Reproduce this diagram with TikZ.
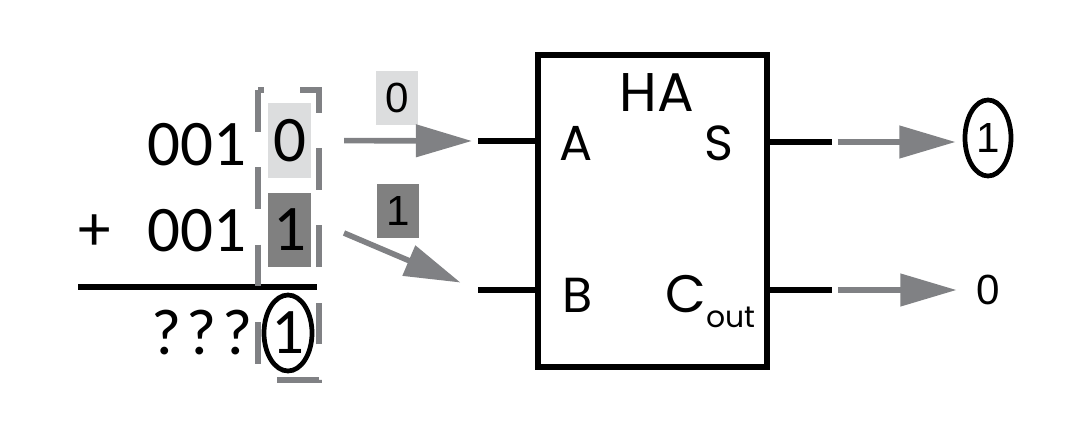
\documentclass[tikz,border=0pt]{standalone}
\usepackage{fontspec}
\setmainfont{Carlito}
\newfontfamily\blockfont{Poppins}
\newfontfamily\bitfont{Liberation Sans}
\usepackage{tikz}
\usetikzlibrary{arrows.meta,positioning,shapes.geometric}
\definecolor{wiregray}{RGB}{128,129,132}
\definecolor{litebit}{RGB}{220,221,222}
\definecolor{darkbit}{RGB}{128,128,128}

\tikzset{
  sumdigit/.style={inner sep=0pt,font=\fontsize{37}{40}\selectfont},
  bitlabel/.style={inner sep=0pt,font=\bitfont\fontsize{24}{26}\selectfont},
  blocktext/.style={inner sep=0pt,anchor=base west,font=\blockfont\fontsize{#1}{#1}\selectfont},
  garrow/.style={wiregray,line width=3.2pt,-{Triangle[length=32pt,width=18pt]}},
  pinline/.style={line width=3pt},
  ring/.style={draw,ellipse,line width=2.7pt,inner sep=0pt},
}

\begin{document}
\begin{tikzpicture}[x=0.02cm,y=-0.02cm, line join=miter]
    \useasboundingbox (0,0) rectangle (1090,426);
    % the sum, worked by hand
    \node[sumdigit] (atop) at (197,145) {001};
    \node[sumdigit,fill=litebit,minimum width=0.86cm,minimum height=1.5cm] (a0) at (289.5,140.5) {0};
    \node[sumdigit] (plus) at (95,233) {+};
    \node[sumdigit] (btop) at (197,231) {001};
    \node[sumdigit,fill=darkbit,minimum width=0.86cm,minimum height=1.48cm] (b0) at (289.5,230) {1};
    \draw[line width=3.4pt] (78,287) -- (317,287);
    \node[sumdigit] (qmarks) at (202,333) {?\kern3pt?\kern3pt?};
    \node[ring,sumdigit,minimum width=0.96cm,minimum height=1.52cm] (s0) at (288,333) {1};
    \draw[wiregray,line width=3pt,dash pattern=on 23.8pt off 20.2pt] (258,90) rectangle (319,380);

    % half adder block
    \node[draw,line width=3.4pt,minimum width=4.58cm,minimum height=6.24cm] (ha) at (652.5,211) {};
    \node[blocktext=31] (halab) at (619,112) {HA};
    \node[blocktext=28] (alab) at (559,160) {A};
    \node[blocktext=28] (slab) at (704,160) {S};
    \node[blocktext=28] (blab) at (562,312) {B};
    \node[blocktext=30] (clab) at (665,312) {C\raisebox{-0.3em}{\fontsize{17}{17}\selectfont out}};

    % pins
    \coordinate (pinA) at (478,141);
    \coordinate (pinB) at (478,290);
    \coordinate (pinS) at (832,142);
    \coordinate (pinC) at (832,290);
    \draw[pinline] (pinA) -- (pinA -| ha.west);
    \draw[pinline] (pinB) -- (pinB -| ha.west);
    \draw[pinline] (pinS -| ha.east) -- (pinS);
    \draw[pinline] (pinC -| ha.east) -- (pinC);

    % bits going in
    \node[bitlabel,fill=litebit,minimum width=0.84cm,minimum height=1.08cm] (abit) at (397,98) {0};
    \node[bitlabel,fill=darkbit,minimum width=0.84cm,minimum height=1.08cm] (bbit) at (398,211) {1};
    \coordinate (bfrom) at (344,233);
    \draw[garrow,shorten <=18.7pt,shorten >=3.4pt] (a0.east) -- (pinA);
    \draw[garrow,shorten >=10.8pt] (bfrom) -- (pinB);

    % bits coming out
    \node[ring,bitlabel,minimum width=0.92cm,minimum height=1.52cm] (sbit) at (988,138) {1};
    \node[bitlabel] (cbit) at (988,290) {0};
    \draw[garrow,shorten <=3.4pt,shorten >=4pt] (pinS) -- (pinS -| sbit.west);
    \draw[garrow,shorten <=3.4pt,shorten >=11pt] (pinC) -- (cbit.west);
\end{tikzpicture}
\end{document}
